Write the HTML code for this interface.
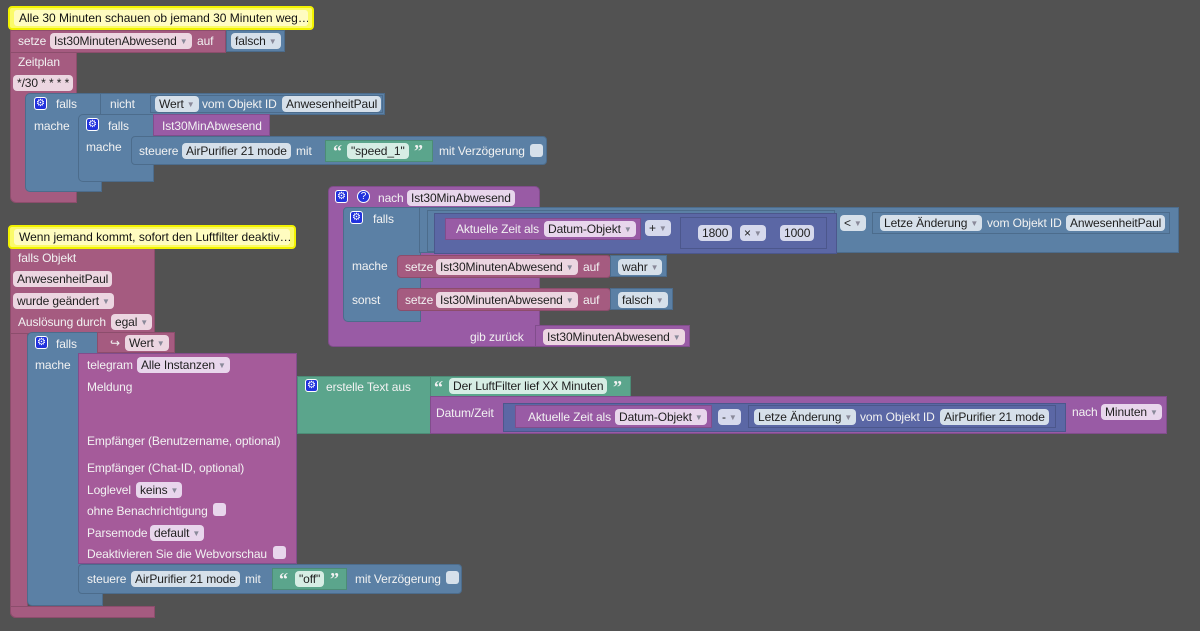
<!DOCTYPE html>
<html><head><meta charset="utf-8"><style>
body{margin:0;width:1200px;height:631px;background:#525252;overflow:hidden;font-family:"Liberation Sans",sans-serif;font-size:12px}
div{position:absolute;box-sizing:border-box}
.k{background:#a55b80;border:1px solid #8c4d6c}
.b{background:#5b80a5;border:1px solid #4c6c8c}
.u{background:#995ba5;border:1px solid #814d8c}
.g{background:#5ba58c;border:1px solid #4c8c76}
.m{background:#5b67a5;border:1px solid #4c578c}
.t{color:#f2f2f2;white-space:nowrap;line-height:14px;letter-spacing:-0.1px}
.p{color:#1e1e1e;white-space:nowrap;border-radius:4px;padding:0 4px;line-height:16px;height:16px;letter-spacing:-0.1px}
.p i{font-style:normal;color:#8a8a9a;font-size:8px;margin-left:3px;vertical-align:1px}
.pk{background:#ecd6e1}.pb{background:#d6e0ea}.pu{background:#e8d6ec}.pg{background:#d6ede4}.pm{background:#d6d9ec}
.cm{background:#fbfb6a;border:2px solid #f2f200;border-radius:4px}
.cm span{position:absolute;left:4px;top:2px;right:4px;bottom:2px;background:#fffcc0;border-radius:3px;color:#111;padding-left:5px;line-height:16px;font-size:12px;white-space:nowrap;overflow:hidden}
.ic{background:#2233dd;border:1px solid #fff;border-radius:3px;width:13px;height:13px;color:#fff;font-size:10px;line-height:11px;text-align:center}
.cb{background:#d6e0ea;border-radius:3px;width:13px;height:13px}
.q{font-family:"Liberation Serif",serif;font-size:18px;font-weight:bold;line-height:18px}
</style></head><body>

<!-- Event 1 -->
<div class="k" style="left:10px;top:52px;width:67px;height:151px;border-radius:0 0 0 6px"></div>
<div class="k" style="left:10px;top:30px;width:216px;height:23px"></div>
<div class="b" style="left:226px;top:30px;width:59px;height:22px"></div>
<div class="cm" style="left:8px;top:6px;width:306px;height:24px"><span>Alle 30 Minuten schauen ob jemand 30 Minuten weg…</span></div>
<div class="t" style="left:18px;top:34px">setze</div>
<div class="p pk" style="left:50px;top:33px">Ist30MinutenAbwesend<i>▼</i></div>
<div class="t" style="left:197px;top:34px">auf</div>
<div class="p pb" style="left:231px;top:33px">falsch<i>▼</i></div>
<div class="t" style="left:18px;top:55px">Zeitplan</div>
<div class="p pk" style="left:13px;top:75px">*/30 * * * *</div>

<div class="b" style="left:25px;top:93px;width:77px;height:99px;border-radius:5px 0 0 5px"></div>
<div class="b" style="left:100px;top:93px;width:285px;height:22px"></div>
<div class="b" style="left:150px;top:95px;width:233px;height:18px"></div>
<div class="ic" style="left:34px;top:97px">⚙</div>
<div class="t" style="left:56px;top:97px">falls</div>
<div class="t" style="left:110px;top:97px">nicht</div>
<div class="p pb" style="left:155px;top:96px">Wert<i>▼</i></div>
<div class="t" style="left:202px;top:97px">vom Objekt ID</div>
<div class="p pb" style="left:282px;top:96px">AnwesenheitPaul</div>
<div class="t" style="left:34px;top:119px">mache</div>

<div class="b" style="left:78px;top:114px;width:76px;height:68px;border-radius:5px 0 0 5px"></div>
<div class="u" style="left:153px;top:114px;width:117px;height:22px"></div>
<div class="ic" style="left:86px;top:118px">⚙</div>
<div class="t" style="left:108px;top:119px">falls</div>
<div class="t" style="left:162px;top:119px">Ist30MinAbwesend</div>
<div class="t" style="left:86px;top:140px">mache</div>
<div class="b" style="left:131px;top:136px;width:416px;height:29px;border-radius:4px"></div>
<div class="t" style="left:139px;top:144px">steuere</div>
<div class="p pb" style="left:182px;top:143px">AirPurifier 21 mode</div>
<div class="t" style="left:296px;top:144px">mit</div>
<div class="g" style="left:325px;top:140px;width:108px;height:22px"></div>
<div class="t q" style="left:333px;top:142px">“</div>
<div class="p pg" style="left:347px;top:143px">"speed_1"</div>
<div class="t q" style="left:414px;top:142px">”</div>
<div class="t" style="left:439px;top:144px">mit Verzögerung</div>
<div class="cb" style="left:530px;top:144px"></div>

<!-- Function -->
<div class="u" style="left:328px;top:186px;width:212px;height:161px;border-radius:5px"></div>
<div class="u" style="left:535px;top:325px;width:155px;height:22px"></div>
<div class="ic" style="left:335px;top:190px">⚙</div>
<div class="ic" style="left:357px;top:190px;border-radius:50%">?</div>
<div class="t" style="left:378px;top:191px">nach</div>
<div class="p pu" style="left:407px;top:190px">Ist30MinAbwesend</div>
<div class="b" style="left:343px;top:207px;width:78px;height:115px;border-radius:4px 0 0 5px"></div>
<div class="b" style="left:419px;top:207px;width:760px;height:46px"></div>
<div class="b" style="left:427px;top:210px;width:408px;height:42px"></div>
<div class="m" style="left:434px;top:213px;width:403px;height:41px"></div>
<div class="u" style="left:445px;top:218px;width:196px;height:22px"></div>
<div class="t" style="left:456px;top:222px">Aktuelle Zeit als</div>
<div class="p pu" style="left:544px;top:221px">Datum-Objekt<i>▼</i></div>
<div class="p pm" style="left:645px;top:220px">+<i>▼</i></div>
<div class="m" style="left:680px;top:217px;width:147px;height:32px"></div>
<div class="p pm" style="left:698px;top:225px">1800</div>
<div class="p pm" style="left:740px;top:225px">×<i>▼</i></div>
<div class="p pm" style="left:780px;top:225px">1000</div>
<div class="ic" style="left:350px;top:211px">⚙</div>
<div class="t" style="left:373px;top:212px">falls</div>
<div class="p pb" style="left:840px;top:215px">&lt;<i>▼</i></div>
<div class="b" style="left:872px;top:212px;width:298px;height:22px"></div>
<div class="p pb" style="left:880px;top:215px">Letze Änderung<i>▼</i></div>
<div class="t" style="left:987px;top:216px">vom Objekt ID</div>
<div class="p pb" style="left:1066px;top:215px">AnwesenheitPaul</div>
<div class="t" style="left:352px;top:259px">mache</div>
<div class="k" style="left:397px;top:255px;width:214px;height:23px;border-radius:4px"></div>
<div class="b" style="left:610px;top:255px;width:57px;height:22px"></div>
<div class="t" style="left:405px;top:260px">setze</div>
<div class="p pk" style="left:436px;top:259px">Ist30MinutenAbwesend<i>▼</i></div>
<div class="t" style="left:583px;top:260px">auf</div>
<div class="p pb" style="left:618px;top:259px">wahr<i>▼</i></div>
<div class="t" style="left:352px;top:293px">sonst</div>
<div class="k" style="left:397px;top:288px;width:214px;height:23px;border-radius:4px"></div>
<div class="b" style="left:610px;top:288px;width:63px;height:22px"></div>
<div class="t" style="left:405px;top:293px">setze</div>
<div class="p pk" style="left:436px;top:292px">Ist30MinutenAbwesend<i>▼</i></div>
<div class="t" style="left:583px;top:293px">auf</div>
<div class="p pb" style="left:618px;top:292px">falsch<i>▼</i></div>
<div class="t" style="left:470px;top:330px">gib zurück</div>
<div class="p pk" style="left:543px;top:329px">Ist30MinutenAbwesend<i>▼</i></div>

<!-- Event 2 -->
<div class="k" style="left:10px;top:248px;width:18px;height:370px;border-radius:0 0 0 6px"></div>
<div class="k" style="left:10px;top:248px;width:145px;height:86px"></div>
<div class="k" style="left:10px;top:606px;width:145px;height:12px;border-radius:0 0 0 6px"></div>
<div class="cm" style="left:8px;top:225px;width:288px;height:24px"><span>Wenn jemand kommt, sofort den Luftfilter deaktiv…</span></div>
<div class="t" style="left:18px;top:251px">falls Objekt</div>
<div class="p pk" style="left:13px;top:271px">AnwesenheitPaul</div>
<div class="p pk" style="left:13px;top:293px">wurde geändert<i>▼</i></div>
<div class="t" style="left:18px;top:315px">Auslösung durch</div>
<div class="p pk" style="left:111px;top:314px">egal<i>▼</i></div>

<div class="b" style="left:27px;top:332px;width:76px;height:274px;border-radius:5px 0 0 5px"></div>
<div class="k" style="left:97px;top:332px;width:78px;height:21px"></div>
<div class="ic" style="left:35px;top:336px">⚙</div>
<div class="t" style="left:56px;top:337px">falls</div>
<div class="t" style="left:110px;top:336px">↪</div>
<div class="p pk" style="left:125px;top:335px">Wert<i>▼</i></div>
<div class="t" style="left:35px;top:358px">mache</div>

<div class="u" style="left:78px;top:353px;width:219px;height:211px;background:#a55b9a"></div>
<div class="t" style="left:87px;top:358px">telegram</div>
<div class="p pu" style="left:137px;top:357px">Alle Instanzen<i>▼</i></div>
<div class="t" style="left:87px;top:380px">Meldung</div>
<div class="t" style="left:87px;top:434px">Empfänger (Benutzername, optional)</div>
<div class="t" style="left:87px;top:461px">Empfänger (Chat-ID, optional)</div>
<div class="t" style="left:87px;top:483px">Loglevel</div>
<div class="p pu" style="left:136px;top:482px">keins<i>▼</i></div>
<div class="t" style="left:87px;top:504px">ohne Benachrichtigung</div>
<div class="cb" style="left:213px;top:503px;background:#e8d6ec"></div>
<div class="t" style="left:87px;top:526px">Parsemode</div>
<div class="p pu" style="left:150px;top:525px">default<i>▼</i></div>
<div class="t" style="left:87px;top:547px">Deaktivieren Sie die Webvorschau</div>
<div class="cb" style="left:273px;top:546px;background:#e8d6ec"></div>

<div class="g" style="left:297px;top:376px;width:134px;height:58px"></div>
<div class="ic" style="left:305px;top:379px">⚙</div>
<div class="t" style="left:326px;top:380px">erstelle Text aus</div>
<div class="g" style="left:430px;top:376px;width:201px;height:21px"></div>
<div class="t q" style="left:434px;top:378px">“</div>
<div class="p pg" style="left:449px;top:378px">Der LuftFilter lief XX Minuten</div>
<div class="t q" style="left:613px;top:378px">”</div>
<div class="u" style="left:430px;top:396px;width:737px;height:38px"></div>
<div class="t" style="left:436px;top:406px">Datum/Zeit</div>
<div class="m" style="left:503px;top:403px;width:563px;height:29px"></div>
<div class="u" style="left:515px;top:405px;width:197px;height:23px"></div>
<div class="t" style="left:528px;top:410px">Aktuelle Zeit als</div>
<div class="p pu" style="left:615px;top:409px">Datum-Objekt<i>▼</i></div>
<div class="p pm" style="left:718px;top:409px">-<i>▼</i></div>
<div class="m" style="left:748px;top:405px;width:308px;height:23px"></div>
<div class="p pb" style="left:754px;top:409px">Letze Änderung<i>▼</i></div>
<div class="t" style="left:860px;top:410px">vom Objekt ID</div>
<div class="p pb" style="left:940px;top:409px">AirPurifier 21 mode</div>
<div class="t" style="left:1072px;top:405px">nach</div>
<div class="p pu" style="left:1101px;top:404px">Minuten<i>▼</i></div>

<div class="b" style="left:78px;top:564px;width:384px;height:30px;border-radius:4px"></div>
<div class="t" style="left:87px;top:572px">steuere</div>
<div class="p pb" style="left:131px;top:571px">AirPurifier 21 mode</div>
<div class="t" style="left:245px;top:572px">mit</div>
<div class="g" style="left:272px;top:568px;width:75px;height:22px"></div>
<div class="t q" style="left:279px;top:570px">“</div>
<div class="p pg" style="left:295px;top:571px">"off"</div>
<div class="t q" style="left:330px;top:570px">”</div>
<div class="t" style="left:355px;top:572px">mit Verzögerung</div>
<div class="cb" style="left:446px;top:571px"></div>
</body></html>
